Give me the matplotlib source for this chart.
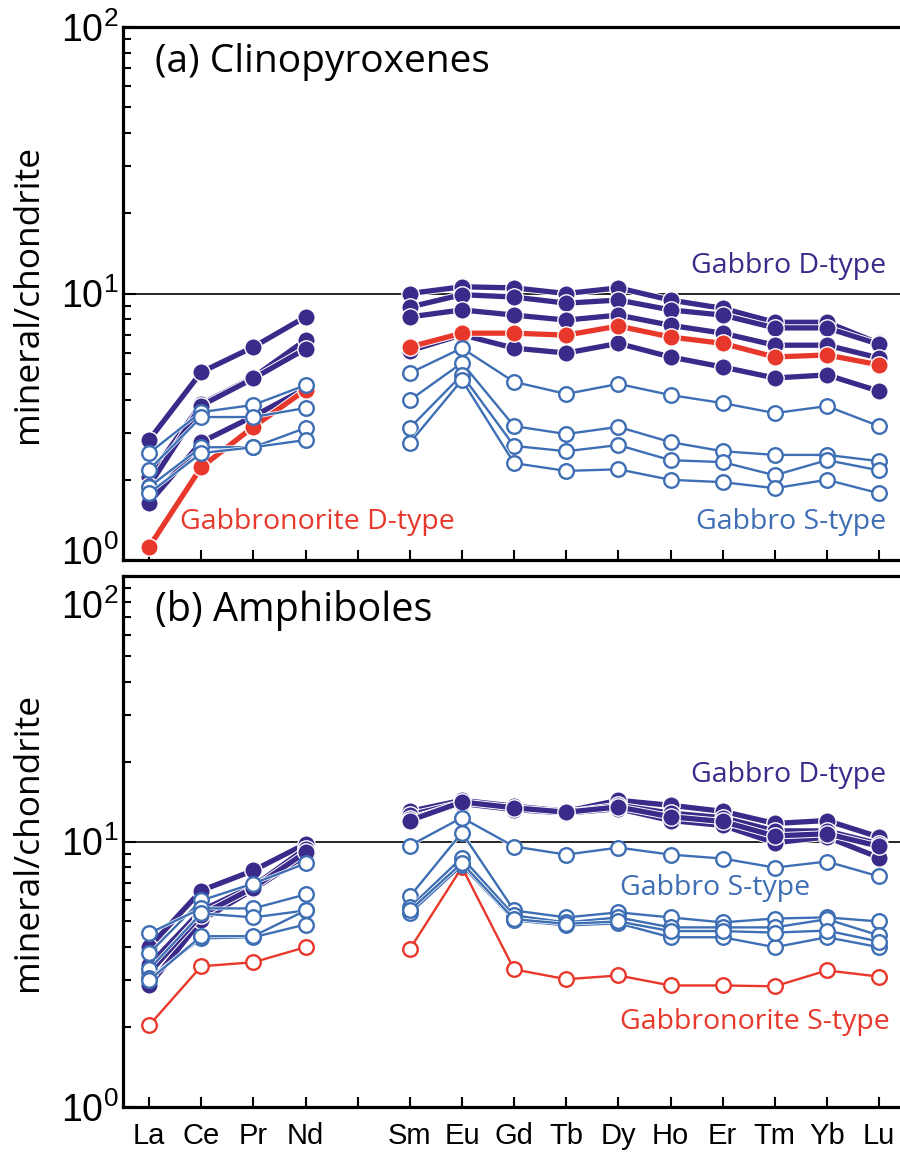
import numpy as np
import matplotlib
matplotlib.use("Agg")
import matplotlib.pyplot as plt
import matplotlib.patheffects as pe
import matplotlib.transforms as mtransforms
from matplotlib.ticker import LogLocator, NullFormatter, FixedLocator

plt.rcParams['mathtext.fontset'] = 'custom'
plt.rcParams['mathtext.rm'] = 'Liberation Sans'
plt.rcParams['mathtext.it'] = 'Liberation Sans'

# rare earth elements (Pm left empty)
elements = ['La', 'Ce', 'Pr', 'Nd', '', 'Sm', 'Eu', 'Gd', 'Tb', 'Dy', 'Ho', 'Er', 'Tm', 'Yb', 'Lu']
nan = np.nan

# (a) clinopyroxenes
cpx_gabbro_d = [
    [2.82, 5.07, 6.30, 8.17, nan, 10.0, 10.6, 10.5, 10.0, 10.5, 9.45, 8.80, 7.80, 7.80, 6.50],
    [2.05, 3.85, 4.85, 6.69, nan, 8.90, 9.90, 9.70, 9.20, 9.45, 8.68, 8.30, 7.43, 7.43, 6.45],
    [1.90, 3.80, 4.80, 6.20, nan, 8.17, 8.68, 8.30, 7.95, 8.30, 7.60, 7.10, 6.40, 6.40, 5.73],
    [1.64, 2.77, 3.46, 4.40, nan, 6.10, 7.00, 6.24, 5.98, 6.50, 5.78, 5.30, 4.82, 4.95, 4.30],
]
cpx_gabbronorite_d = [1.12, 2.23, 3.16, 4.35, nan, 6.30, 7.10, 7.10, 6.98, 7.55, 6.87, 6.50, 5.78, 5.88, 5.40]
cpx_gabbro_s = [
    [2.52, 3.59, 3.82, 4.53, nan, 5.03, 6.24, 4.66, 4.20, 4.58, 4.16, 3.88, 3.56, 3.78, 3.18],
    [2.18, 3.44, 3.44, 3.72, nan, 3.98, 5.49, 3.18, 2.97, 3.16, 2.77, 2.56, 2.48, 2.48, 2.35],
    [1.88, 2.65, 2.65, 3.13, nan, 3.13, 4.95, 2.68, 2.56, 2.70, 2.37, 2.33, 2.08, 2.37, 2.17],
    [1.78, 2.52, 2.65, 2.82, nan, 2.75, 4.74, 2.31, 2.16, 2.19, 2.00, 1.96, 1.86, 2.00, 1.78],
]

# (b) amphiboles
amp_gabbro_d = [
    [4.00, 6.54, 7.78, 9.80, nan, 13.0, 14.3, 13.6, 13.0, 14.3, 13.7, 13.0, 11.7, 12.0, 10.4],
    [3.42, 5.50, 6.80, 9.40, nan, 12.6, 14.0, 13.3, 12.9, 13.7, 12.8, 12.3, 10.97, 10.97, 9.80],
    [2.87, 5.05, 6.60, 8.87, nan, 12.2, 13.9, 13.2, 12.8, 13.3, 12.0, 11.5, 9.90, 10.4, 8.70],
    [3.20, 5.30, 6.70, 9.10, nan, 12.0, 14.1, 13.4, 12.9, 13.5, 12.4, 11.9, 10.5, 10.7, 9.60],
]
amp_gabbro_s = [
    [3.79, 6.00, 6.95, 8.27, nan, 9.66, 12.3, 9.58, 8.93, 9.49, 8.93, 8.63, 7.98, 8.41, 7.39],
    [4.51, 5.60, 5.60, 6.32, nan, 6.21, 10.8, 5.50, 5.18, 5.41, 5.18, 4.96, 5.13, 5.18, 5.00],
    [3.30, 5.36, 5.18, 5.50, nan, 5.65, 8.70, 5.27, 4.96, 5.18, 4.75, 4.75, 4.75, 5.10, 4.43],
    [3.05, 4.32, 4.36, 4.87, nan, 5.36, 8.13, 5.05, 4.83, 4.92, 4.36, 4.36, 4.00, 4.36, 4.00],
    [3.00, 4.40, 4.40, 5.50, nan, 5.50, 8.30, 5.10, 4.90, 5.00, 4.60, 4.60, 4.54, 4.62, 4.20],
]
amp_gabbronorite_s = [2.03, 3.39, 3.51, 4.00, nan, 3.93, 8.00, 3.30, 3.03, 3.13, 2.87, 2.87, 2.85, 3.27, 3.10]

PURPLE = '#3a2a8a'
BLUE = '#3e6fb4'
RED = '#e8382c'
TXT = 'Open Sans'
LBL = 20.5   # series label size

x = np.arange(len(elements))


def draw_series(ax, y, color, filled, z):
    y = np.array(y, dtype=float)
    if filled:
        ax.plot(x, y, color=color, lw=3.8, zorder=z, solid_capstyle='round',
                path_effects=[pe.withStroke(linewidth=5.2, foreground='white')])
        ax.plot(x, y, 'o', ms=12.5, mfc=color, mec='white', mew=1.0, zorder=z + 0.1)
    else:
        ax.plot(x, y, color=color, lw=1.7, zorder=z,
                path_effects=[pe.withStroke(linewidth=2.7, foreground='white')])
        ax.plot(x, y, 'o', ms=10.5, mfc='white', mec=color, mew=1.7, zorder=z + 0.1)


def style_axes(ax, show_xlabels):
    ax.set_yscale('log')
    ax.set_ylim(1, 100)
    ax.set_xlim(-0.5, 14.5)
    ax.axhline(10, color='black', lw=1.2, zorder=0.5)
    for s in ax.spines.values():
        s.set_linewidth(2.3)
    ax.xaxis.set_major_locator(FixedLocator(x))
    if show_xlabels:
        ax.set_xticklabels(elements, fontsize=21, family='Liberation Sans')
    else:
        ax.set_xticklabels([])
    ax.tick_params(axis='x', direction='in', length=7, width=1.5, pad=11, top=False)
    ax.yaxis.set_major_locator(FixedLocator([1, 10, 100]))
    ax.set_yticklabels([r'$10^0$', r'$10^1$', r'$10^2$'], fontsize=27)
    ax.yaxis.set_minor_locator(LogLocator(base=10, subs=np.arange(2, 10)))
    ax.yaxis.set_minor_formatter(NullFormatter())
    ax.tick_params(axis='y', which='major', direction='in', length=9, width=1.5, pad=3, right=False)
    ax.tick_params(axis='y', which='minor', direction='in', length=6, width=1.5, right=False)
    ax.set_ylabel('mineral/chondrite', fontsize=25.5, family=TXT, labelpad=12)


fig = plt.figure(figsize=(9, 11.54), dpi=100)
ax1 = fig.add_axes([0.1367, 0.5147, 0.8690, 0.4619])
ax2 = fig.add_axes([0.1367, 0.0407, 0.8690, 0.4601])

# top panel
style_axes(ax1, False)
z = 2
for s in cpx_gabbro_d:
    draw_series(ax1, s, PURPLE, True, z)
    z += 0.2
draw_series(ax1, cpx_gabbronorite_d, RED, True, z)
z += 0.2
for s in cpx_gabbro_s:
    draw_series(ax1, s, BLUE, False, z)
    z += 0.2
ax1.text(0.041, 0.934, '(a) Clinopyroxenes', transform=ax1.transAxes, fontsize=28,
         family=TXT, ha='left', va='center')
ax1.text(0.976, 0.552, 'Gabbro D-type', transform=ax1.transAxes, fontsize=LBL,
         family=TXT, color=PURPLE, ha='right', va='center')
ax1.text(0.073, 0.071, 'Gabbronorite D-type', transform=ax1.transAxes, fontsize=LBL,
         family=TXT, color=RED, ha='left', va='center')
ax1.text(0.976, 0.071, 'Gabbro S-type', transform=ax1.transAxes, fontsize=LBL,
         family=TXT, color=BLUE, ha='right', va='center')

# bottom panel
style_axes(ax2, True)
z = 2
for s in amp_gabbro_d:
    draw_series(ax2, s, PURPLE, True, z)
    z += 0.2
draw_series(ax2, amp_gabbronorite_s, RED, False, z)
z += 0.2
for s in amp_gabbro_s:
    draw_series(ax2, s, BLUE, False, z)
    z += 0.2
ax2.text(0.041, 0.936, '(b) Amphiboles', transform=ax2.transAxes, fontsize=28.5,
         family=TXT, ha='left', va='center')
ax2.text(0.976, 0.625, 'Gabbro D-type', transform=ax2.transAxes, fontsize=LBL,
         family=TXT, color=PURPLE, ha='right', va='center')
ax2.text(0.636, 0.412, 'Gabbro S-type', transform=ax2.transAxes, fontsize=LBL,
         family=TXT, color=BLUE, ha='left', va='center')
ax2.text(0.636, 0.160, 'Gabbronorite S-type', transform=ax2.transAxes, fontsize=LBL,
         family=TXT, color=RED, ha='left', va='center')

# nudge end labels inside like the original
shift_up = mtransforms.ScaledTranslation(0, 10 / 100, fig.dpi_scale_trans)
shift_down = mtransforms.ScaledTranslation(0, -28 / 100, fig.dpi_scale_trans)
lbls = ax1.get_yticklabels()
lbls[0].set_transform(lbls[0].get_transform() + shift_up)
lbls = ax2.get_yticklabels()
lbls[2].set_transform(lbls[2].get_transform() + shift_down)

fig.savefig('out.png', dpi=100)
